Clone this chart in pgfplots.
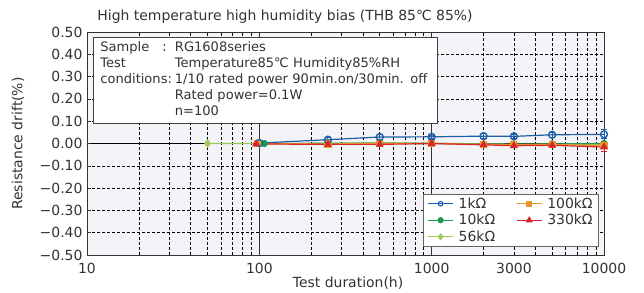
\documentclass[border=0pt]{standalone}
\usepackage{pgfplots}
\pgfplotsset{compat=1.18}
\usepackage{fontspec}
\setmainfont{DejaVu Sans}
\newcommand{\degC}{℃}
\definecolor{txt}{HTML}{333333}
\definecolor{bgc}{HTML}{F3F3F8}
\definecolor{cblue}{HTML}{1F5FA8}
\definecolor{cgreen}{HTML}{1E9A4A}
\definecolor{clgreen}{HTML}{9DC95B}
\definecolor{corange}{HTML}{E8962A}
\definecolor{cred}{HTML}{D9262A}
\begin{document}
\begin{tikzpicture}[font=\fontsize{14}{16}\selectfont]
\begin{axis}[
  scale only axis, width=517bp, height=223bp,
  xmode=log, xmin=10, xmax=10000, ymin=-0.5, ymax=0.5,
  axis background/.style={fill=bgc},
  axis line style={draw=txt, line width=1pt},
  tick label style={text=txt},
  label style={text=txt},
  xtick={10,100,1000,10000},
  xticklabels={10,100,1000,10000},
  extra x ticks={3000}, extra x tick labels={3000},
  extra x tick style={grid=none, major tick length=0pt},
  minor xtick={20,30,40,50,60,70,80,90,200,300,400,500,600,700,800,900,2000,3000,4000,5000,6000,7000,8000,9000},
  ytick={-0.5,-0.4,-0.3,-0.2,-0.1,0,0.1,0.2,0.3,0.4,0.5},
  yticklabels={−0.50,−0.40,−0.30,−0.20,−0.10,0.00,0.10,0.20,0.30,0.40,0.50},
  extra y ticks={0}, extra y tick labels={},
  extra y tick style={major y grid style={solid, black, line width=0.8pt}},
  xmajorgrids, xminorgrids, ymajorgrids,
  major x grid style={solid, black!80, line width=1pt},
  minor x grid style={black, dash pattern=on 3pt off 2pt, line width=0.6pt},
  major y grid style={black, dash pattern=on 3pt off 2pt, line width=0.6pt},
  xtick style={draw=none}, minor tick length=0pt,
  ytick style={draw=txt, line width=0.6pt}, ytick pos=left, major tick length=4pt,
  xticklabel style={yshift=-5pt},
  yticklabel style={xshift=-1pt},
  xlabel={Test duration(h)},
  ylabel={Resistance drift(\%)},
  xlabel style={at={(axis description cs:0.505,-0.1256)}, anchor=center},
  ylabel style={at={(axis description cs:-0.1335,0.5)}, anchor=center},
  clip=false,
  error bars/error bar style={line width=1pt},
  error bars/error mark options={rotate=90, mark size=3pt, line width=1pt},
  legend columns=2,
  legend image code/.code={\draw[mark repeat=2,mark phase=2] plot coordinates {(0bp,0bp) (12.5bp,0bp) (25bp,0bp)};},
  legend style={at={(rel axis cs:0.990,0.040)}, anchor=south east, draw=black!60, fill=white, font=\fontsize{14}{15}\selectfont, text=txt, inner xsep=4pt, inner ysep=1pt, row sep=0.5pt, /tikz/every even column/.append style={column sep=19pt}, /tikz/every odd column/.append style={column sep=3pt}},
  legend cell align=left,
]
% 56k
\addplot[clgreen, line width=1.2pt, mark=diamond*, mark size=3.5pt, forget plot] coordinates {
 (50,0.0) (100,0.0) (250,0.0) (500,0.003) (1000,0.002) (2000,-0.002) (3000,-0.003) (5000,-0.003) (10000,-0.004)};
% 10k
\addplot[cgreen, line width=1.2pt, mark=*, mark size=3pt, forget plot,
  error bars/.cd, y dir=both, y explicit] coordinates {
 (107,0.0) +- (0,0.003) (250,0.001) +- (0,0.004) (500,0.001) +- (0,0.004) (1000,0.0) +- (0,0.004)
 (2000,-0.003) +- (0,0.005) (3000,-0.004) +- (0,0.005) (5000,-0.002) +- (0,0.006) (10000,0.0) +- (0,0.01)};
% 100k
\addplot[corange, line width=1.2pt, mark=square*, mark size=3pt, forget plot,
  error bars/.cd, y dir=both, y explicit] coordinates {
 (98,0.0) +- (0,0.003) (250,-0.002) +- (0,0.004) (500,0.0) +- (0,0.004) (1000,0.0) +- (0,0.004)
 (2000,-0.004) +- (0,0.005) (3000,-0.006) +- (0,0.005) (5000,-0.004) +- (0,0.006) (10000,-0.01) +- (0,0.008)};
% 1k
\addplot[cblue, line width=1.2pt, mark=o, mark size=3.5pt, mark options={line width=1.4pt, fill=white}, forget plot,
  error bars/.cd, y dir=both, y explicit] coordinates {
 (100,0.002) +- (0,0.004) (250,0.017) +- (0,0.008) (500,0.029) +- (0,0.01) (1000,0.03) +- (0,0.008)
 (2000,0.033) +- (0,0.01) (3000,0.032) +- (0,0.01) (5000,0.039) +- (0,0.012) (10000,0.041) +- (0,0.02)};
% 330k
\addplot[cred, line width=1.2pt, mark=triangle*, mark size=3.5pt, forget plot,
  error bars/.cd, y dir=both, y explicit] coordinates {
 (96,-0.002) +- (0,0.003) (250,-0.004) +- (0,0.004) (500,-0.004) +- (0,0.004) (1000,0.0) +- (0,0.004)
 (2000,-0.006) +- (0,0.005) (3000,-0.01) +- (0,0.006) (5000,-0.008) +- (0,0.01) (10000,-0.016) +- (0,0.02)};
\addlegendimage{cblue, line width=1.2pt, mark=o, mark size=2.3pt, mark options={line width=1.1pt, fill=white}}
\addlegendentry{1kΩ}
\addlegendimage{corange, line width=1.2pt, mark=square*, mark size=2.5pt}
\addlegendentry{100kΩ}
\addlegendimage{cgreen, line width=1.2pt, mark=*, mark size=2.5pt}
\addlegendentry{10kΩ}
\addlegendimage{cred, line width=1.2pt, mark=triangle*, mark size=3pt}
\addlegendentry{330kΩ}
\addlegendimage{clgreen, line width=1.2pt, mark=diamond*, mark size=2.8pt}
\addlegendentry{56kΩ}
\node[anchor=north west, draw=black!75, line width=0.8pt, fill=white, inner xsep=7bp, inner ysep=3pt, text=txt, text width=330bp, minimum height=85bp, align=left, font=\fontsize{13.1}{16}\selectfont]
  at (rel axis cs:0.0116,0.9776) {%
  \begin{tabular}{@{}l@{\hspace{3pt}}l@{}}
  \makebox[62bp][l]{Sample}: & RG1608series\\
  Test & Temperature85\degC{} Humidity85\%RH\\
  conditions: & 1/10 rated power 90min.on/30min. off\\
  & Rated power=0.1W\\
  & n=100
  \end{tabular}};
\node[anchor=center, text=txt] at (rel axis cs:0.383,1.067) {High temperature high humidity bias (THB 85\degC{} 85\%)};
\end{axis}
\pgfresetboundingbox
\path[use as bounding box] (-87bp,-38bp) rectangle (557bp,255bp);
\end{tikzpicture}
\end{document}
